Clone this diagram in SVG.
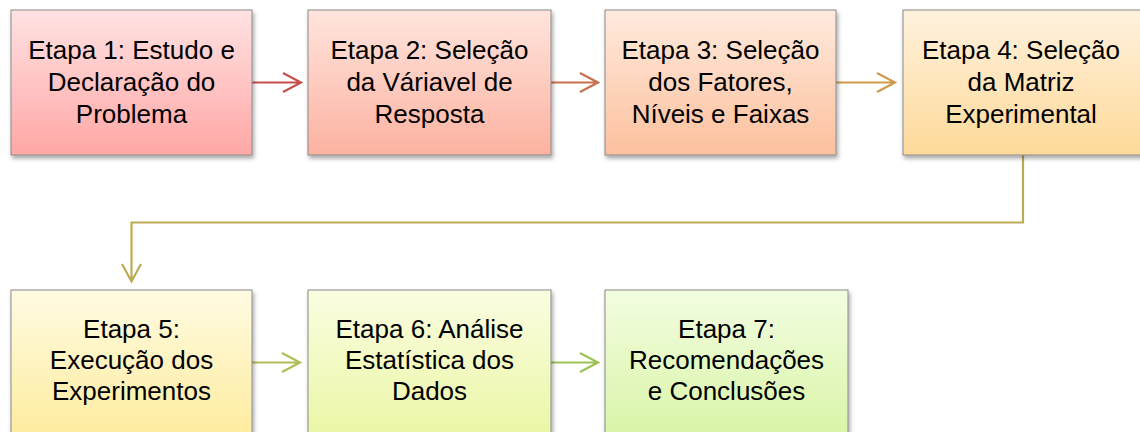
<svg xmlns="http://www.w3.org/2000/svg" width="1140" height="432" viewBox="0 0 1140 432">
<style>
.box{stroke:#8a8a8a;stroke-width:1;filter:url(#sh)}
.t{font-family:"Liberation Sans",Arial,sans-serif;font-size:26px;fill:#000;text-anchor:middle}
.c{fill:none;stroke-width:2.2}
</style>
<defs>
<filter id="sh" x="-10%" y="-10%" width="125%" height="130%">
<feDropShadow dx="1.5" dy="3" stdDeviation="2" flood-color="#000" flood-opacity="0.35"/>
</filter>
<linearGradient id="g1" x1="0" y1="0" x2="0" y2="1"><stop offset="0" stop-color="#ffe2e2"/><stop offset="1" stop-color="#ffa7a5"/></linearGradient>
<linearGradient id="g2" x1="0" y1="0" x2="0" y2="1"><stop offset="0" stop-color="#ffe4dd"/><stop offset="1" stop-color="#fcb2a0"/></linearGradient>
<linearGradient id="g3" x1="0" y1="0" x2="0" y2="1"><stop offset="0" stop-color="#ffeadd"/><stop offset="1" stop-color="#fcc09d"/></linearGradient>
<linearGradient id="g4" x1="0" y1="0" x2="0" y2="1"><stop offset="0" stop-color="#fff1dd"/><stop offset="1" stop-color="#fdd999"/></linearGradient>
<linearGradient id="g5" x1="0" y1="0" x2="0" y2="1"><stop offset="0" stop-color="#fffbe2"/><stop offset="1" stop-color="#fdeb9c"/></linearGradient>
<linearGradient id="g6" x1="0" y1="0" x2="0" y2="1"><stop offset="0" stop-color="#fafde0"/><stop offset="1" stop-color="#eaf6a4"/></linearGradient>
<linearGradient id="g7" x1="0" y1="0" x2="0" y2="1"><stop offset="0" stop-color="#f2fde0"/><stop offset="1" stop-color="#d8f4a6"/></linearGradient>
</defs>
<rect width="1140" height="432" fill="#fff"/>
<g id="connectors">
<path class="c" stroke="#c4504e" d="M252,82.5H301M283,73L301,82.5L283,92"/>
<path class="c" stroke="#c76f4e" d="M551,82.5H598M580,73L598,82.5L580,92"/>
<path class="c" stroke="#cf9a4c" d="M836,82.5H895M877,73L895,82.5L877,92"/>
<path class="c" stroke="#bcab55" d="M1023,155V222.5H131.5V281.5M122,264L131.5,281.5L141,264"/>
<path class="c" stroke="#b3bc55" d="M252,362.5H300M282,353L300,362.5L282,372"/>
<path class="c" stroke="#9cc254" d="M551,362.5H598M580,353L598,362.5L580,372"/>
</g>
<g id="n1"><rect class="box" x="11" y="10" width="241" height="145" fill="url(#g1)"/>
<text class="t" x="131.5" y="59">Etapa 1: Estudo e</text><text class="t" x="131.5" y="91">Declaração do</text><text class="t" x="131.5" y="123">Problema</text></g>
<g id="n2"><rect class="box" x="308" y="10" width="243" height="145" fill="url(#g2)"/>
<text class="t" x="429.5" y="59">Etapa 2: Seleção</text><text class="t" x="429.5" y="91">da Váriavel de</text><text class="t" x="429.5" y="123">Resposta</text></g>
<g id="n3"><rect class="box" x="605" y="10" width="231" height="145" fill="url(#g3)"/>
<text class="t" x="720.5" y="59">Etapa 3: Seleção</text><text class="t" x="720.5" y="91">dos Fatores,</text><text class="t" x="720.5" y="123">Níveis e Faixas</text></g>
<g id="n4"><rect class="box" x="903" y="10" width="240" height="145" fill="url(#g4)"/>
<text class="t" x="1021" y="59">Etapa 4: Seleção</text><text class="t" x="1021" y="91">da Matriz</text><text class="t" x="1021" y="123">Experimental</text></g>
<g id="n5"><rect class="box" x="11" y="290" width="241" height="150" fill="url(#g5)"/>
<text class="t" x="131.5" y="338">Etapa 5:</text><text class="t" x="131.5" y="369">Execução dos</text><text class="t" x="131.5" y="400">Experimentos</text></g>
<g id="n6"><rect class="box" x="308" y="290" width="243" height="150" fill="url(#g6)"/>
<text class="t" x="429.5" y="338">Etapa 6: Análise</text><text class="t" x="429.5" y="369">Estatística dos</text><text class="t" x="429.5" y="400">Dados</text></g>
<g id="n7"><rect class="box" x="605" y="290" width="243" height="150" fill="url(#g7)"/>
<text class="t" x="726.5" y="338">Etapa 7:</text><text class="t" x="726.5" y="369">Recomendações</text><text class="t" x="726.5" y="400">e Conclusões</text></g>
</svg>
